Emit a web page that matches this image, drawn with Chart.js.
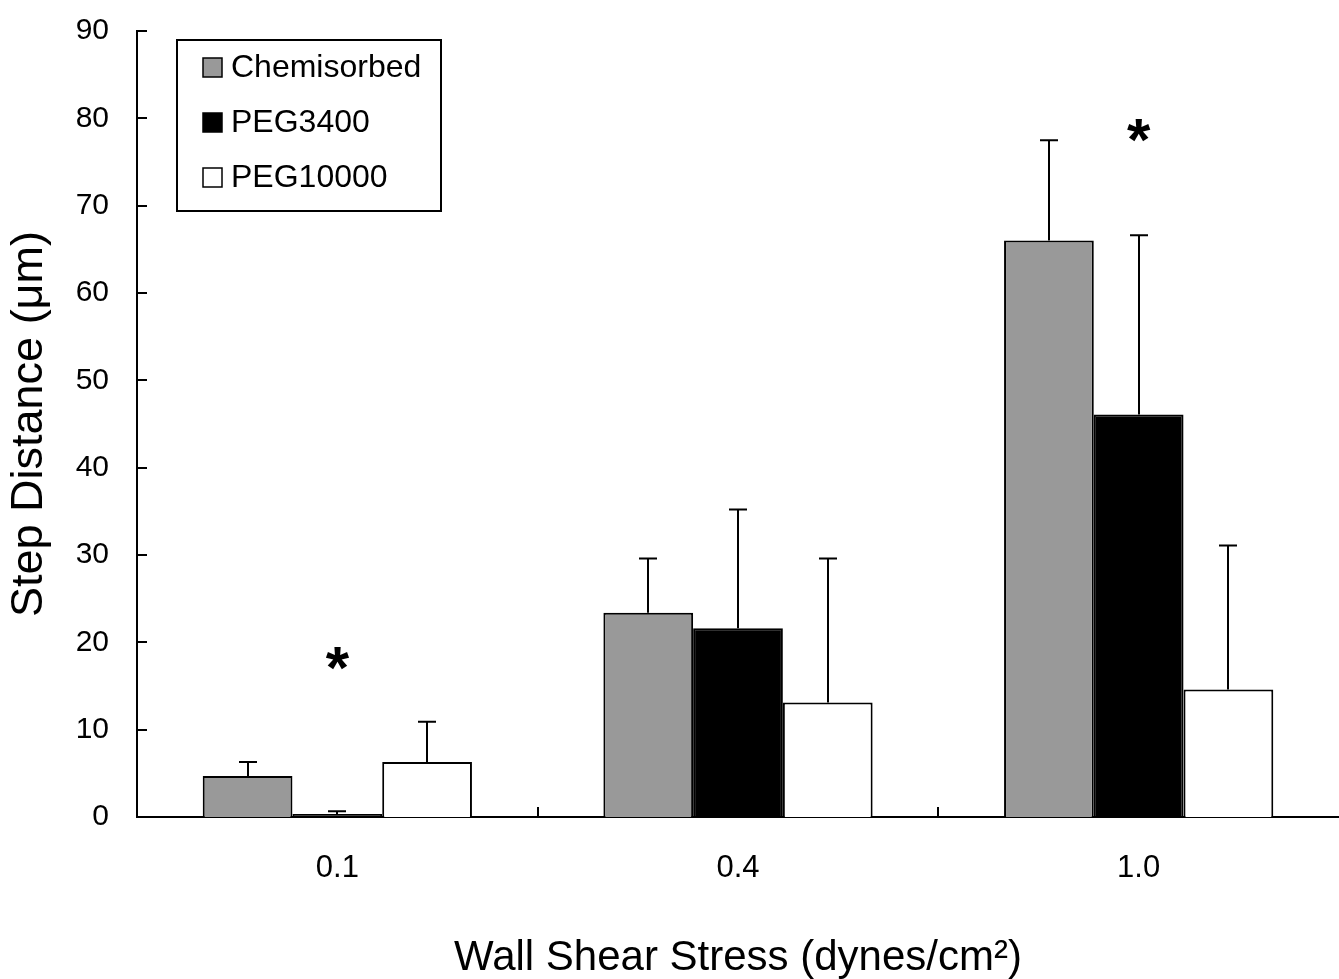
<!DOCTYPE html>
<html><head><meta charset="utf-8">
<script src="https://cdn.jsdelivr.net/npm/chart.js@4/dist/chart.umd.min.js"></script>
<style>html,body{margin:0;padding:0;background:#fff;}#wrap{width:1339px;height:979px;position:relative;}</style>
</head><body><div id="wrap"><canvas id="c" width="1339" height="979"></canvas></div>
<script>
const categories = ['0.1', '0.4', '1.0'];
const seriesNames = ['Chemisorbed', 'PEG3400', 'PEG10000'];
const chemisorbed = [4.7, 23.4, 66.0];
const peg3400 = [0.35, 21.6, 46.1];
const peg10000 = [6.3, 13.1, 14.6];
const chemisorbedErr = [1.6, 6.2, 11.5];
const peg3400Err = [0.3, 13.6, 20.5];
const peg10000Err = [4.6, 16.5, 16.5];
const yTicks = [0, 10, 20, 30, 40, 50, 60, 70, 80, 90];
const starCategories = ['0.1', '1.0'];
const starValues = [18.2, 78.6];
const xTitle = 'Wall Shear Stress (dynes/cm\u00B2)';
const yTitle = 'Step Distance (\u03BCm)';

const FONT = '"Liberation Sans", Arial, sans-serif';
const fills = ['#999999', '#000000', '#ffffff'];
const errs = [chemisorbedErr, peg3400Err, peg10000Err];

const innerTicks = {
  id: 'innerTicks',
  afterDraw(chart) {
    const ctx = chart.ctx, x = chart.scales.x, y = chart.scales.y;
    const area = chart.chartArea;
    ctx.save();
    ctx.strokeStyle = '#000'; ctx.lineWidth = 2;
    yTicks.forEach(v => {
      const py = Math.round(y.getPixelForValue(v));
      ctx.beginPath(); ctx.moveTo(area.left, py); ctx.lineTo(area.left + 10, py); ctx.stroke();
    });
    for (let i = 0; i < categories.length - 1; i++) {
      const px = Math.round((x.getPixelForValue(i) + x.getPixelForValue(i + 1)) / 2);
      ctx.beginPath(); ctx.moveTo(px, area.bottom); ctx.lineTo(px, area.bottom - 10); ctx.stroke();
    }
    ctx.restore();
  }
};

const errorBars = {
  id: 'errorBars',
  afterDatasetsDraw(chart) {
    const ctx = chart.ctx, y = chart.scales.y;
    ctx.save();
    ctx.strokeStyle = '#000'; ctx.lineWidth = 2;
    chart.data.datasets.forEach((ds, di) => {
      const meta = chart.getDatasetMeta(di);
      meta.data.forEach((bar, i) => {
        const top = y.getPixelForValue(ds.data[i] + errs[di][i]);
        const cx = Math.round(bar.x);
        ctx.beginPath();
        ctx.moveTo(cx, bar.y); ctx.lineTo(cx, top);
        ctx.moveTo(cx - 9, top); ctx.lineTo(cx + 9, top);
        ctx.stroke();
      });
    });
    ctx.restore();
  }
};

const stars = {
  id: 'stars',
  afterDraw(chart) {
    const ctx = chart.ctx, x = chart.scales.x, y = chart.scales.y;
    ctx.save();
    ctx.fillStyle = '#000';
    ctx.font = 'bold 60px ' + FONT;
    ctx.textAlign = 'center';
    ctx.textBaseline = 'alphabetic';
    starCategories.forEach((c, i) => {
      const px = x.getPixelForValue(categories.indexOf(c));
      const py = y.getPixelForValue(starValues[i]);
      const m = ctx.measureText('*');
      ctx.fillText('*', px, py + (m.actualBoundingBoxAscent - m.actualBoundingBoxDescent) / 2);
    });
    ctx.restore();
  }
};

const boxLegend = {
  id: 'boxLegend',
  afterDraw(chart) {
    const ctx = chart.ctx;
    ctx.save();
    ctx.strokeStyle = '#000'; ctx.lineWidth = 2;
    ctx.fillStyle = '#fff';
    ctx.fillRect(177, 40, 264, 171);
    ctx.strokeRect(177, 40, 264, 171);
    ctx.font = '32px ' + FONT;
    ctx.textBaseline = 'middle';
    ctx.textAlign = 'left';
    seriesNames.forEach((n, i) => {
      const cy = 67 + i * 55;
      ctx.fillStyle = fills[i];
      ctx.fillRect(203, cy - 9, 19, 19);
      ctx.lineWidth = 1.5;
      ctx.strokeRect(203, cy - 9, 19, 19);
      ctx.fillStyle = '#000';
      ctx.fillText(n, 231, cy + 1);
    });
    ctx.restore();
  }
};

new Chart(document.getElementById('c'), {
  type: 'bar',
  data: {
    labels: categories,
    datasets: [
      { label: seriesNames[0], data: chemisorbed, backgroundColor: fills[0], borderColor: '#000', borderWidth: 2 },
      { label: seriesNames[1], data: peg3400, backgroundColor: fills[1], borderColor: '#000', borderWidth: 2 },
      { label: seriesNames[2], data: peg10000, backgroundColor: fills[2], borderColor: '#000', borderWidth: 2 }
    ]
  },
  options: {
    responsive: false,
    animation: false,
    devicePixelRatio: 1,
    categoryPercentage: 0.672,
    barPercentage: 1.0,
    layout: { autoPadding: false, padding: { top: 31, right: 0, bottom: 0, left: 0 } },
    plugins: { legend: { display: false }, tooltip: { enabled: false } },
    scales: {
      x: {
        grid: { display: false },
        border: { display: true, color: '#000', width: 2 },
        ticks: { color: '#000', font: { family: FONT, size: 31 }, padding: 25 },
        title: { display: true, text: xTitle, color: '#000', font: { family: FONT, size: 42, lineHeight: 1.0 }, padding: 0 },
        afterFit(s) { s.height = 162; s.paddingLeft = 0; s.paddingRight = 0; }
      },
      y: {
        min: 0, max: 90,
        grid: { display: false },
        border: { display: true, color: '#000', width: 2 },
        ticks: { stepSize: 10, color: '#000', font: { family: FONT, size: 30 }, padding: 20 },
        title: { display: true, text: yTitle, color: '#000', font: { family: FONT, size: 45 }, padding: 3 },
        afterFit(s) { s.width = 137; s.paddingTop = 0; s.paddingBottom = 0; }
      }
    }
  },
  plugins: [errorBars, innerTicks, stars, boxLegend]
});
</script></body></html>
